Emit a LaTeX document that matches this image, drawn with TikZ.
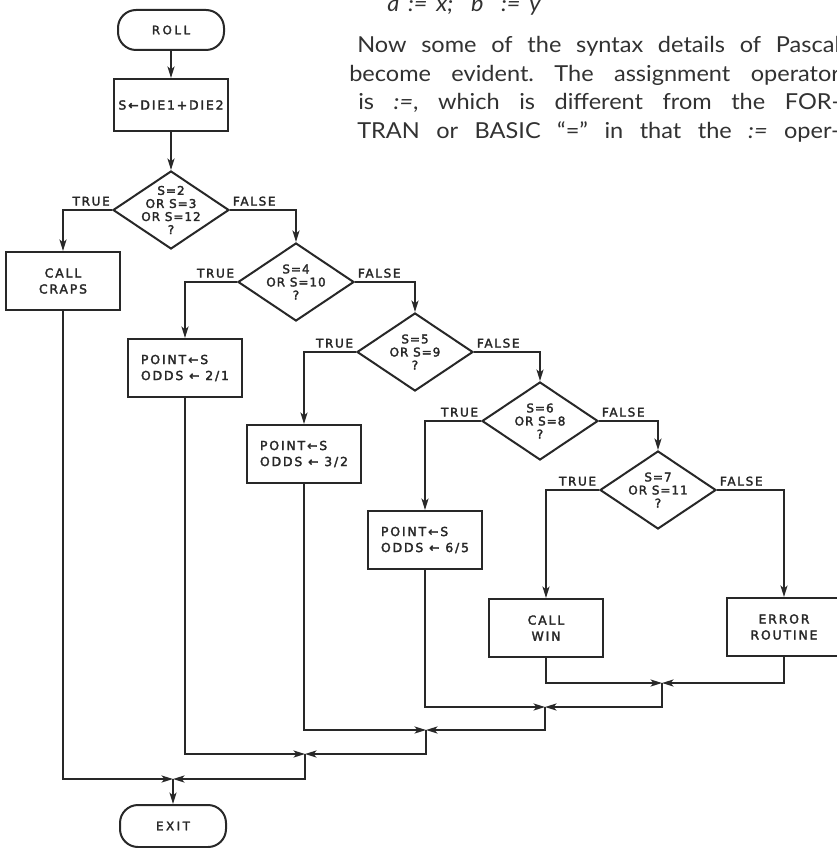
\documentclass[tikz,border=0pt]{standalone}
\usepackage{fontspec}
\usetikzlibrary{arrows.meta,shapes.geometric}
\newfontfamily\bodyfont[FakeStretch=1.07]{Lato}
\newfontfamily\lettering[LetterSpace=15,FakeBold=2.4]{DejaVu Sans}
\newfontfamily\letteringdia[LetterSpace=8,FakeBold=2.4]{DejaVu Sans}
\newfontfamily\letteringlab[LetterSpace=14,FakeBold=2.4]{DejaVu Sans}
\newfontfamily\letteringwide[LetterSpace=22,FakeBold=2.4]{DejaVu Sans}
\newcommand\lettbox{\lettering\fontsize{9.3}{12}\selectfont}
\newcommand\lettdia{\letteringdia\fontsize{9}{9.8}\selectfont}
\newcommand\lettlab{\letteringlab\fontsize{9}{10}\selectfont}
\newcommand\lettterm{\letteringwide\fontsize{8.8}{10}\selectfont}
\definecolor{ink}{RGB}{40,40,40}
\definecolor{txt}{RGB}{50,50,50}
\begin{document}
\begin{tikzpicture}[x=0.75pt,y=-0.75pt,
  conn/.style={draw=ink, line width=1.5pt},
  arr/.style={conn, -{Stealth[length=8.5pt,width=5.2pt,inset=2pt]}},
  term/.style={draw=ink, line width=1.5pt, rounded corners=13.5pt, minimum width=79.5pt, minimum height=30pt, inner sep=0pt, font=\lettterm, text=ink},
  procbox/.style={draw=ink, line width=1.5pt, minimum width=85.5pt, minimum height=43.5pt, inner sep=0pt, align=center, font=\lettbox, text=ink},
  dia/.style={draw=ink, line width=1.5pt, shape=diamond, minimum width=87pt, minimum height=58.5pt, inner sep=0pt},
  diatext/.style={align=center, font=\lettdia, text=ink, inner sep=0pt},
  lab/.style={font=\lettlab, text=ink, inner sep=0pt},
  bodyline/.style={anchor=base west, inner sep=0pt, font=\bodyfont\frenchspacing\fontsize{16.5}{20}\selectfont, text=txt},
]
\fill[white] (0,0) rectangle (836,848);
\useasboundingbox (0,0) rectangle (836,848);

% text at top right
\node[bodyline] (l0) at (387,12) {\itshape\makebox[115pt][s]{a := x; \ b \ := y}};
\node[bodyline] (l1) at (357,53) {\makebox[362pt][s]{Now some of the syntax details of Pascal}};
\node[bodyline] (l2) at (349,82) {\makebox[368pt][s]{become evident. The assignment operator}};
\node[bodyline] (l3) at (358,110) {\makebox[361.5pt][s]{is \textit{:=}, which is different from the FOR-}};
\node[bodyline] (l4) at (357,138.5) {\makebox[362pt][s]{TRAN or BASIC “=” in that the \textit{:=} oper-}};

% nodes
\node[term] (roll) at (171,30) {ROLL};
\node[procbox, minimum height=39pt] (sum) at (171,105) {S←DIE1+DIE2};
\node[dia] (d1) at (171,210) {};
\node[diatext] (t1) at (d1.center) {S=2\\OR S=3\\OR S=12\\?};
\node[procbox] (craps) at (63,281) {CALL\\CRAPS};
\node[dia] (d2) at (296,282) {};
\node[diatext] (t2) at (d2.center) {S=4\\OR S=10\\?};
\node[procbox, align=left] (p21) at (185,368) {POINT←S\\ODDS ← 2/1};
\node[dia] (d3) at (415,352) {};
\node[diatext] (t3) at (d3.center) {S=5\\OR S=9\\?};
\node[procbox, align=left] (p32) at (304,454) {POINT←S\\ODDS ← 3/2};
\node[dia] (d4) at (540,421) {};
\node[diatext] (t4) at (d4.center) {S=6\\OR S=8\\?};
\node[procbox, align=left] (p65) at (425,540) {POINT←S\\ODDS ← 6/5};
\node[dia] (d5) at (658,490) {};
\node[diatext] (t5) at (d5.center) {S=7\\OR S=11\\?};
\node[procbox] (win) at (546,628) {CALL\\WIN};
\node[procbox] (err) at (784,627) {ERROR\\ROUTINE};
\node[term, minimum height=31.5pt] (exit) at (173,826) {EXIT};

% TRUE / FALSE labels
\node[lab, anchor=south east] (tr1) at ([xshift=-1.5pt,yshift=3pt]d1.west) {TRUE};
\node[lab, anchor=south west] (fa1) at ([xshift=2pt,yshift=3pt]d1.east) {FALSE};
\node[lab, anchor=south east] (tr2) at ([xshift=-2pt,yshift=3pt]d2.west) {TRUE};
\node[lab, anchor=south west] (fa2) at ([xshift=2pt,yshift=3pt]d2.east) {FALSE};
\node[lab, anchor=south east] (tr3) at ([xshift=-2pt,yshift=3pt]d3.west) {TRUE};
\node[lab, anchor=south west] (fa3) at ([xshift=2pt,yshift=3pt]d3.east) {FALSE};
\node[lab, anchor=south east] (tr4) at ([xshift=-2pt,yshift=3pt]d4.west) {TRUE};
\node[lab, anchor=south west] (fa4) at ([xshift=2pt,yshift=3pt]d4.east) {FALSE};
\node[lab, anchor=south east] (tr5) at ([xshift=-2pt,yshift=3pt]d5.west) {TRUE};
\node[lab, anchor=south west] (fa5) at ([xshift=2pt,yshift=3pt]d5.east) {FALSE};

% downward flow
\draw[arr] (roll.south) -- (sum.north);
\draw[arr] (sum.south) -- (d1.north);
\draw[arr] (d1.west) -| (craps.north);
\draw[arr] (d1.east) -| (d2.north);
\draw[arr] (d2.west) -| (p21.north);
\draw[arr] (d2.east) -| (d3.north);
\draw[arr] (d3.west) -| (p32.north);
\draw[arr] (d3.east) -| (d4.north);
\draw[arr] (d4.west) -| (p65.north);
\draw[arr] (d4.east) -| (d5.north);
\draw[arr] (d5.west) -| (win.north);
\draw[arr] (d5.east) -| (err.north);

% merges
\coordinate (m1) at (662,683);
\coordinate (m2) at (545,707);
\coordinate (m3) at (426,730);
\coordinate (m4) at (305,754);
\coordinate (m5) at (173,779);
\draw[arr] (win.south) |- (m1);
\draw[arr] (err.south) |- (m1);
\draw[arr] (m1) |- (m2);
\draw[arr] (p65.south) |- (m2);
\draw[arr] (m2) |- (m3);
\draw[arr] (p32.south) |- (m3);
\draw[arr] (m3) |- (m4);
\draw[arr] (p21.south) |- (m4);
\draw[arr] (m4) |- (m5);
\draw[arr] (craps.south) |- (m5);
\draw[arr] (m5) -- (exit.north);
\end{tikzpicture}
\end{document}
